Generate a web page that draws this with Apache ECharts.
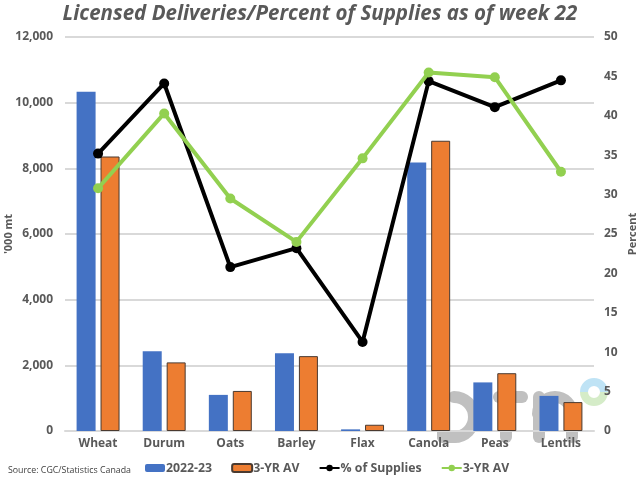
<!DOCTYPE html>
<html>
<head>
<meta charset="utf-8">
<script src="https://cdn.jsdelivr.net/npm/echarts@6/dist/echarts.min.js"></script>
<style>
  html, body { margin: 0; padding: 0; background: #fff; }
  #main { width: 640px; height: 480px; }
</style>
</head>
<body>
<div id="main"></div>
<script>
var categories = ['Wheat', 'Durum', 'Oats', 'Barley', 'Flax', 'Canola', 'Peas', 'Lentils'];
var deliveries = [10330, 2430, 1100, 2370, 50, 8180, 1480, 1070];
var deliveriesAvg = [8360, 2090, 1220, 2280, 190, 8840, 1760, 880];
var pctSupplies = [35.2, 44.1, 20.8, 23.2, 11.3, 44.4, 41.1, 44.5];
var pctAvg = [30.8, 40.3, 29.5, 24.0, 34.6, 45.5, 44.9, 32.9];

var FONT = '"Open Sans", "Noto Sans", sans-serif';
var GREY = '#595959';
var MARK = '#c0c0c0';

// stroke used by the dtn watermark pieces
function markStyle() {
  return { stroke: MARK, lineWidth: 12, fill: null, lineCap: 'round' };
}
function markLine(x1, y1, x2, y2) {
  return { type: 'line', z: -1, shape: { x1: x1, y1: y1, x2: x2, y2: y2 }, style: markStyle() };
}
function markArc(cx, cy, r, start, end) {
  return { type: 'arc', z: -1, shape: { cx: cx, cy: cy, r: r, startAngle: start, endAngle: end, clockwise: true }, style: markStyle() };
}

var chart = echarts.init(document.getElementById('main'), null, { renderer: 'canvas' });

chart.setOption({
  animation: false,
  backgroundColor: '#fff',
  title: {
    text: 'Licensed Deliveries/Percent of Supplies as of week 22',
    left: 'center',
    top: -1,
    textStyle: { fontFamily: FONT, fontSize: 20.5, fontWeight: 'bold', fontStyle: 'italic', color: GREY }
  },
  grid: { left: 65, right: 46, top: 37, bottom: 49, outerBoundsMode: 'none' },
  legend: {
    left: 145,
    top: 462,
    itemWidth: 20,
    itemHeight: 8,
    itemGap: 19,
    padding: 0,
    textStyle: { fontFamily: FONT, fontSize: 12.3, fontWeight: 'bold', color: GREY, padding: [0, 0, 0, -4] },
    data: ['2022-23', '3-YR AV', '% of Supplies', '3-YR AV ']
  },
  xAxis: {
    type: 'category',
    data: categories,
    axisTick: { show: false },
    axisLine: { lineStyle: { color: '#d9d9d9', width: 2 } },
    axisLabel: { fontFamily: FONT, fontSize: 12, fontWeight: 'bold', color: GREY, margin: 7 }
  },
  yAxis: [
    {
      type: 'value', min: 0, max: 12000, interval: 2000,
      name: "'000 mt",
      nameLocation: 'middle',
      nameMoveOverlap: false,
      nameGap: 56,
      nameTextStyle: { fontFamily: FONT, fontSize: 11, fontWeight: 'bold', color: GREY, verticalAlign: 'middle' },
      axisLine: { show: false },
      axisTick: { show: false },
      axisLabel: {
        fontFamily: FONT, fontSize: 12, fontWeight: 'bold', color: GREY, margin: 12,
        formatter: function (v) { return v.toLocaleString('en-US'); }
      },
      splitLine: { lineStyle: { color: '#d9d9d9', width: 2 } }
    },
    {
      type: 'value', min: 0, max: 50, interval: 5,
      name: 'Percent',
      nameLocation: 'middle',
      nameMoveOverlap: false,
      nameGap: 39,
      nameRotate: 90,
      nameTextStyle: { fontFamily: FONT, fontSize: 11, fontWeight: 'bold', color: GREY, verticalAlign: 'middle' },
      axisLine: { show: false },
      axisTick: { show: false },
      axisLabel: { fontFamily: FONT, fontSize: 12, fontWeight: 'bold', color: GREY, margin: 10 },
      splitLine: { show: false }
    }
  ],
  series: [
    {
      name: '2022-23', type: 'bar', data: deliveries, barWidth: 19, barGap: '26%',
      itemStyle: { color: '#4472c4' }
    },
    {
      name: '3-YR AV', type: 'bar', data: deliveriesAvg, barWidth: 19,
      itemStyle: { color: '#ed7d31', borderColor: '#4a3a30', borderWidth: 1 }
    },
    {
      name: '% of Supplies', type: 'line', yAxisIndex: 1, data: pctSupplies,
      symbol: 'circle', symbolSize: 10, z: 4,
      lineStyle: { color: '#000', width: 4 }, itemStyle: { color: '#000' }
    },
    {
      name: '3-YR AV ', type: 'line', yAxisIndex: 1, data: pctAvg,
      symbol: 'circle', symbolSize: 10, z: 5,
      lineStyle: { color: '#92d050', width: 4 }, itemStyle: { color: '#92d050' }
    }
  ],
  graphic: [
    {
      type: 'text', left: 8, top: 466, z: 10,
      style: { text: 'Source: CGC/Statistics Canada', fontFamily: FONT, fontSize: 8.8, fill: '#404040' }
    },
    // dtn watermark, sits behind the bars
    markArc(454, 417, 20, -Math.PI / 2, Math.PI / 2),
    markLine(443, 437, 454, 437),
    markLine(443, 400, 443, 437),
    markLine(499, 397, 522, 397),
    markLine(506, 397, 506, 437),
    markLine(539, 397, 539, 437),
    markArc(555, 414, 17, Math.PI, 0),
    markLine(572, 414, 572, 437),
    {
      type: 'ring', z: -1,
      shape: { cx: 594, cy: 392, r: 14, r0: 6 },
      style: { fill: new echarts.graphic.LinearGradient(0, 0, 0, 1, [
        { offset: 0, color: '#bfe3f5' }, { offset: 0.5, color: '#bfe3f5' },
        { offset: 0.5, color: '#d5ecc8' }, { offset: 1, color: '#d5ecc8' }
      ]) }
    }
  ]
});
</script>
</body>
</html>
